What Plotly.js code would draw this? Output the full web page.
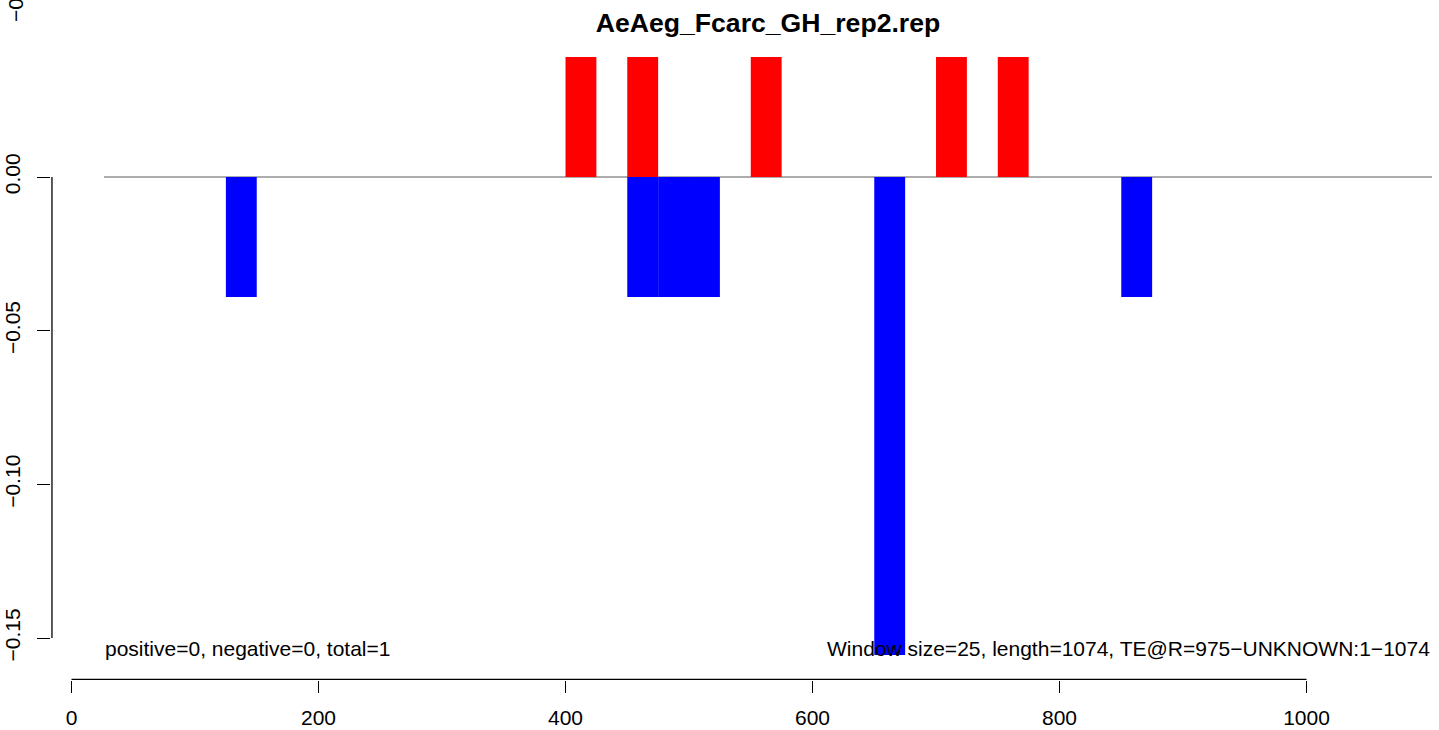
<!DOCTYPE html>
<html>
<head>
<meta charset="utf-8">
<script src="https://cdn.plot.ly/plotly-3.0.1.min.js"></script>
<style>html,body{margin:0;padding:0;background:#fff;}#chart{width:1439px;height:730px;}</style>
</head>
<body>
<div id="chart"></div>
<script>
// Window starts (window size 25) and coverage values
const windowSize = 25;
const posStarts = [400, 450, 550, 700, 750];
const posValues = [0.039, 0.039, 0.039, 0.039, 0.039];
const negStarts = [125, 450, 475, 500, 650, 850];
const negValues = [-0.039, -0.039, -0.039, -0.039, -0.1555, -0.039];
const xTicks = [0, 200, 400, 600, 800, 1000];
const yTicks = [-0.15, -0.10, -0.05, 0.00];
const yTickText = ['\u22120.15', '\u22120.10', '\u22120.05', '0.00'];
const titleText = 'AeAeg_Fcarc_GH_rep2.rep';
const leftNote = 'positive=0, negative=0, total=1';
const rightNote = 'Window size=25, length=1074, TE@R=975\u2212UNKNOWN:1\u22121074';

const centers = a => a.map(s => s + windowSize / 2);
const font = 'Liberation Sans, Arial, Helvetica, sans-serif';

const traces = [
  {type: 'bar', x: centers(posStarts), y: posValues, width: windowSize,
   marker: {color: '#ff0000', line: {width: 0}}, hoverinfo: 'x+y'},
  {type: 'bar', x: centers(negStarts), y: negValues, width: windowSize,
   marker: {color: '#0000ff', line: {width: 0}}, hoverinfo: 'x+y'}
];

const layout = {
  width: 1439, height: 730,
  margin: {l: 51, r: 7, t: 0, b: 50, pad: 0},
  paper_bgcolor: '#fff', plot_bgcolor: '#fff',
  showlegend: false, barmode: 'overlay',
  font: {family: font, size: 21, color: '#000'},
  title: {text: '<b>' + titleText + '</b>', font: {family: font, size: 26.6, color: '#000'},
          x: 768 / 1439, xref: 'container', xanchor: 'center',
          y: 1 - 23 / 730, yref: 'container', yanchor: 'middle'},
  xaxis: {range: [-16.6, 1101.6], tickvals: xTicks, ticktext: xTicks.map(String),
          showgrid: false, zeroline: false, showline: false,
          ticks: 'outside', ticklen: 12, tickwidth: 1, tickcolor: '#000',
          ticklabelstandoff: 7, tickfont: {size: 21}},
  yaxis: {range: [-0.16363, 0.05758], tickvals: yTicks, ticktext: yTickText,
          showgrid: false, zeroline: false, showline: false,
          ticks: 'outside', ticklen: 13, tickwidth: 1, tickcolor: '#000',
          tickangle: -90, ticklabelstandoff: 9, tickfont: {size: 21}},
  shapes: [
    {type: 'line', xref: 'x', yref: 'paper', x0: 0, x1: 1000, y0: 0.001, y1: 0.001,
     line: {color: '#000', width: 1.3}},
    {type: 'line', xref: 'paper', yref: 'y', x0: 0.0007, x1: 0.0007, y0: -0.15, y1: 0,
     line: {color: '#000', width: 1.3}},
    {type: 'line', xref: 'x', yref: 'y', x0: 26.3, x1: 1101.6, y0: 0, y1: 0,
     line: {color: '#5a5a5a', width: 1}, layer: 'below'}
  ],
  annotations: [
    {text: leftNote, xref: 'paper', yref: 'paper', x: (103 - 51) / 1381, y: (680 - 648) / 680,
     xanchor: 'left', yanchor: 'middle', showarrow: false, font: {size: 21}},
    {text: rightNote, xref: 'paper', yref: 'paper', x: 1, y: (680 - 648) / 680,
     xanchor: 'right', yanchor: 'middle', showarrow: false, font: {size: 21}},
    {text: '\u22120', xref: 'paper', yref: 'paper', x: (16 - 51) / 1381, y: (680 - 10) / 680,
     xanchor: 'center', yanchor: 'middle', textangle: -90, showarrow: false, font: {size: 21}}
  ]
};

Plotly.newPlot('chart', traces, layout, {displayModeBar: false, staticPlot: true});
</script>
</body>
</html>
